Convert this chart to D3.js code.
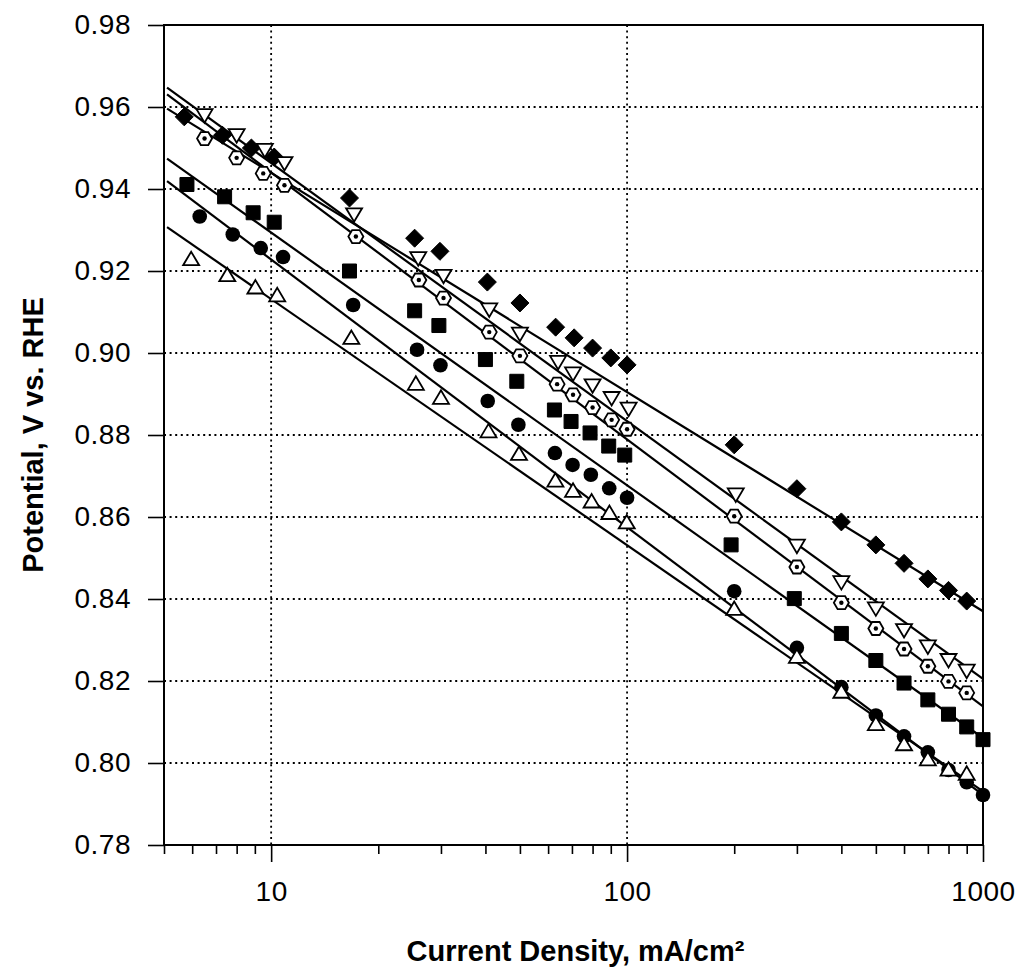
<!DOCTYPE html>
<html>
<head>
<meta charset="utf-8">
<title>Potential vs current density</title>
<script src="https://cdn.jsdelivr.net/npm/d3@7"></script>
<style>
  body { margin: 0; background: #fff; }
  svg { font-family: 'Liberation Sans', Arial, sans-serif; }
  .tick text { fill: #000; }
</style>
</head>
<body>
<svg id="chart" width="1023" height="976"></svg>
<script>
// values (current density mA/cm2, potential V)
var diamondX = [5.7, 7.3, 8.8, 10.2, 16.6, 25.3, 29.8, 40.5, 50, 63, 71, 80, 90, 100, 200, 300, 400, 500, 600, 700, 800, 900];
var diamondY = [0.9576, 0.9531, 0.9500, 0.9478, 0.9378, 0.9280, 0.9248, 0.9173, 0.9122, 0.9063, 0.9037, 0.9012, 0.8988, 0.8971, 0.8776, 0.8669, 0.8588, 0.8532, 0.8487, 0.8449, 0.8421, 0.8395];

var downTriX = [6.5, 8.0, 9.6, 10.9, 17.1, 25.9, 30.5, 41, 50, 64, 70.5, 80, 90.5, 101, 202, 300, 400, 500, 600, 700, 800, 900];
var downTriY = [0.9579, 0.9530, 0.9494, 0.9462, 0.9337, 0.9230, 0.9187, 0.9105, 0.9046, 0.8977, 0.8949, 0.8920, 0.8889, 0.8863, 0.8654, 0.8529, 0.8440, 0.8376, 0.8323, 0.8283, 0.8250, 0.8224];

var hexX = [6.5, 8.0, 9.5, 10.9, 17.3, 26, 30.5, 41, 50, 63.6, 70.5, 80, 90.5, 100, 200, 300, 400, 500, 600, 700, 800, 900];
var hexY = [0.9523, 0.9476, 0.9438, 0.9409, 0.9284, 0.9178, 0.9134, 0.9051, 0.8993, 0.8924, 0.8898, 0.8867, 0.8837, 0.8814, 0.8602, 0.8478, 0.8391, 0.8328, 0.8278, 0.8236, 0.8199, 0.8171];

var squareX = [5.8, 7.4, 8.9, 10.2, 16.6, 25.3, 29.6, 40, 49, 62.5, 69.6, 78.7, 88.8, 98.5, 196, 295, 400, 500, 600, 700, 800, 900, 1000];
var squareY = [0.9411, 0.9381, 0.9342, 0.9319, 0.9200, 0.9103, 0.9067, 0.8984, 0.8931, 0.8861, 0.8833, 0.8805, 0.8773, 0.8751, 0.8532, 0.8401, 0.8316, 0.8250, 0.8195, 0.8154, 0.8119, 0.8088, 0.8057];

var circleX = [6.3, 7.8, 9.35, 10.8, 17, 25.7, 29.9, 40.6, 49.5, 62.7, 70.3, 79.1, 89.1, 100, 200, 300, 400, 500, 600, 700, 800, 900, 1000];
var circleY = [0.9333, 0.9289, 0.9256, 0.9234, 0.9117, 0.9008, 0.8970, 0.8883, 0.8825, 0.8756, 0.8727, 0.8703, 0.8670, 0.8647, 0.8419, 0.8281, 0.8185, 0.8116, 0.8065, 0.8026, 0.7983, 0.7953, 0.7922];

var upTriX = [5.96, 7.53, 9.03, 10.4, 16.8, 25.5, 30, 40.8, 49.7, 62.9, 70.5, 79.5, 89.2, 99.8, 200, 300, 400, 500, 600, 700, 800, 900];
var upTriY = [0.9230, 0.9191, 0.9161, 0.9142, 0.9038, 0.8926, 0.8892, 0.8810, 0.8755, 0.8690, 0.8665, 0.8639, 0.8611, 0.8588, 0.8377, 0.8260, 0.8175, 0.8096, 0.8047, 0.8010, 0.7985, 0.7975];

// fitted Tafel lines, value at the two ends
var fitX = [5.1, 1000];
var fitDiamond = [0.9596, 0.8370];
var fitDownTri = [0.9647, 0.8205];
var fitHex = [0.9631, 0.8138];
var fitSquare = [0.9474, 0.8061];
var fitCircle = [0.9419, 0.7922];
var fitUpTri = [0.9307, 0.7931];

var yTicks = [0.78, 0.80, 0.82, 0.84, 0.86, 0.88, 0.90, 0.92, 0.94, 0.96, 0.98];
var xMajor = [10, 100, 1000];
var xMinor = [5, 6, 7, 8, 9, 20, 30, 40, 50, 60, 70, 80, 90, 200, 300, 400, 500, 600, 700, 800, 900];

var series = [
  {shape: "diamond", xs: diamondX, ys: diamondY, fit: fitDiamond},
  {shape: "downTri", xs: downTriX, ys: downTriY, fit: fitDownTri},
  {shape: "hex", xs: hexX, ys: hexY, fit: fitHex},
  {shape: "square", xs: squareX, ys: squareY, fit: fitSquare},
  {shape: "circle", xs: circleX, ys: circleY, fit: fitCircle},
  {shape: "upTri", xs: upTriX, ys: upTriY, fit: fitUpTri}
];

var plotL = 164, plotR = 983, plotT = 25, plotB = 845;

var svg = d3.select("#chart");

var x = d3.scaleLog().domain([5, 1000]).range([plotL, plotR]);
var y = d3.scaleLinear().domain([0.78, 0.98]).range([plotB, plotT]);

// dotted grid
svg.append("g")
  .selectAll("line")
  .data(yTicks.filter(function(d){ return d > 0.785 && d < 0.975; }))
  .enter().append("line")
  .attr("x1", plotL).attr("x2", plotR)
  .attr("y1", function(d){ return y(d); })
  .attr("y2", function(d){ return y(d); })
  .attr("stroke", "#000")
  .attr("stroke-width", 1.8)
  .attr("stroke-dasharray", "2,3.6");

svg.append("g")
  .selectAll("line")
  .data([10, 100])
  .enter().append("line")
  .attr("x1", function(d){ return x(d); })
  .attr("x2", function(d){ return x(d); })
  .attr("y1", plotT).attr("y2", plotB)
  .attr("stroke", "#000")
  .attr("stroke-width", 1.8)
  .attr("stroke-dasharray", "2,3.6");

// fit lines
var line = d3.line()
  .x(function(d){ return x(d[0]); })
  .y(function(d){ return y(d[1]); });

svg.append("g")
  .selectAll("path")
  .data(series)
  .enter().append("path")
  .attr("d", function(s){ return line(fitX.map(function(v, i){ return [v, s.fit[i]]; })); })
  .attr("fill", "none")
  .attr("stroke", "#000")
  .attr("stroke-width", 2.2);

// marker shapes
function shapePath(shape) {
  if (shape == "diamond") return "M0,-9L9,0L0,9L-9,0Z";
  if (shape == "square") return "M-7,-7H7V7H-7Z";
  if (shape == "downTri") return "M-8,-6.5L8,-6.5L0,7Z";
  if (shape == "upTri") return "M-8,6.5L8,6.5L0,-7Z";
  if (shape == "hex") {
    var pts = d3.range(6).map(function(i){
      var a = i * Math.PI / 3;
      return [7.5 * Math.cos(a), 7.5 * Math.sin(a)];
    });
    return "M" + pts.join("L") + "Z";
  }
  return null;
}

series.forEach(function(s) {
  var pts = s.xs.map(function(v, i){ return [v, s.ys[i]]; });
  var g = svg.append("g").attr("class", "marks-" + s.shape);
  var open = (s.shape == "downTri" || s.shape == "upTri" || s.shape == "hex");
  if (s.shape == "circle") {
    g.selectAll("circle")
      .data(pts)
      .enter().append("circle")
      .attr("cx", function(d){ return x(d[0]); })
      .attr("cy", function(d){ return y(d[1]); })
      .attr("r", 7.3)
      .attr("fill", "#000");
    return;
  }
  g.selectAll("path")
    .data(pts)
    .enter().append("path")
    .attr("transform", function(d){ return "translate(" + x(d[0]) + "," + y(d[1]) + ")"; })
    .attr("d", shapePath(s.shape))
    .attr("fill", open ? "#fff" : "#000")
    .attr("stroke", "#000")
    .attr("stroke-width", open ? 1.8 : 1);
  if (s.shape == "hex") {
    g.selectAll("circle")
      .data(pts)
      .enter().append("circle")
      .attr("cx", function(d){ return x(d[0]); })
      .attr("cy", function(d){ return y(d[1]); })
      .attr("r", 2.2)
      .attr("fill", "#000");
  }
});

// frame
svg.append("rect")
  .attr("x", plotL).attr("y", plotT)
  .attr("width", plotR - plotL).attr("height", plotB - plotT)
  .attr("fill", "none")
  .attr("stroke", "#000")
  .attr("stroke-width", 2);

// axes
var yAxis = svg.append("g")
  .attr("transform", "translate(" + plotL + ",0)")
  .call(d3.axisLeft(y).tickValues(yTicks).tickSize(16).tickPadding(17).tickFormat(d3.format(".2f")));

var xMinorAxis = svg.append("g")
  .attr("transform", "translate(0," + plotB + ")")
  .call(d3.axisBottom(x).tickValues(xMinor).tickSize(9).tickFormat(""));

var xAxis = svg.append("g")
  .attr("transform", "translate(0," + plotB + ")")
  .call(d3.axisBottom(x).tickValues(xMajor).tickSize(17).tickPadding(19).tickFormat(d3.format("d")));

[yAxis, xMinorAxis, xAxis].forEach(function(a){
  a.select(".domain").remove();
  a.selectAll(".tick line").attr("stroke", "#000").attr("stroke-width", 1.6);
  a.selectAll(".tick text").attr("font-size", 28).attr("letter-spacing", 0.5)
    .attr("font-family", "'Liberation Sans', Arial, sans-serif");
});

// axis titles
svg.append("text")
  .attr("x", (plotL + plotR) / 2 + 2)
  .attr("y", 961)
  .attr("text-anchor", "middle")
  .attr("font-size", 29)
  .attr("font-weight", "bold")
  .text("Current Density, mA/cm\u00b2");

svg.append("text")
  .attr("transform", "translate(43," + ((plotT + plotB) / 2) + ") rotate(-90)")
  .attr("text-anchor", "middle")
  .attr("font-size", 29)
  .attr("font-weight", "bold")
  .text("Potential, V vs. RHE");
</script>
</body>
</html>
